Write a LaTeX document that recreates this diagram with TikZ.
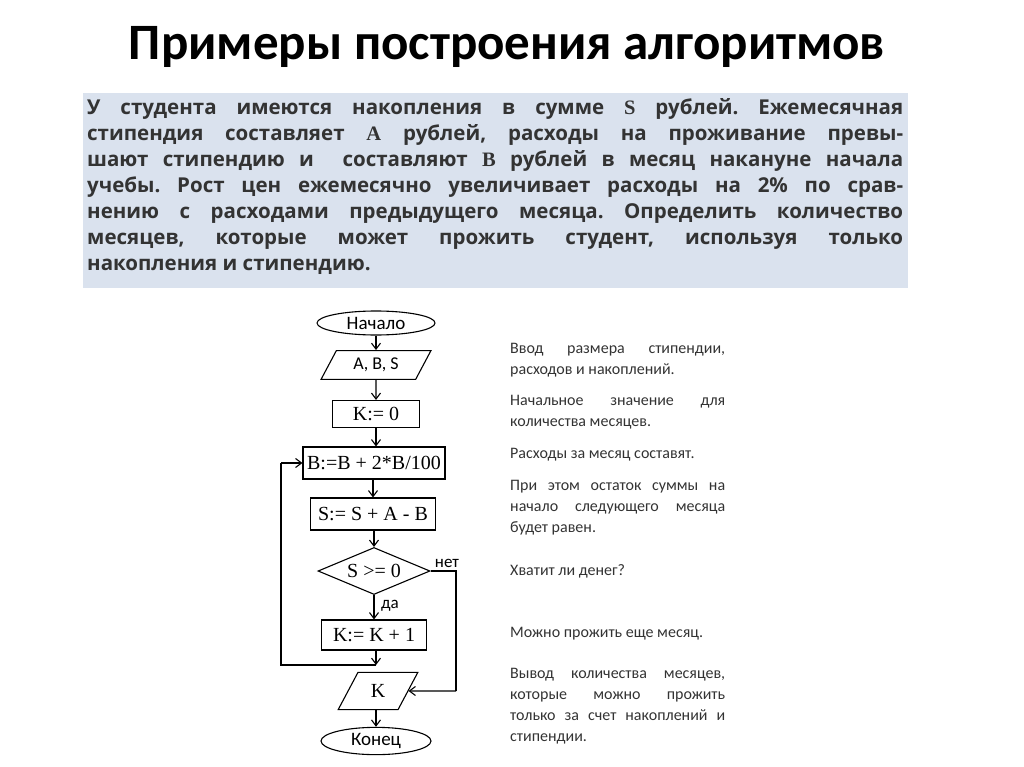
\documentclass[tikz,border=0pt]{standalone}
\usepackage{fontspec}
\setmainfont{Carlito}
\newfontfamily\tms{Liberation Serif}
\newfontfamily\opn{Open Sans}
\usetikzlibrary{shapes.geometric,arrows.meta}
\definecolor{boxbg}{HTML}{DAE2EE}
\definecolor{txt}{HTML}{333333}
\frenchspacing
\tikzset{
  fl/.style={draw,line width=1.1pt,minimum height=27pt,inner sep=2pt,font=\tms\fontsize{20}{20}\selectfont},
  term/.style={fl,ellipse,minimum height=24pt,font=\fontsize{19}{19}\selectfont},
  io/.style={fl,trapezium,trapezium left angle=62,trapezium right angle=118,minimum height=28pt},
  dec/.style={fl,diamond,aspect=2.4,inner sep=0pt},
  arr/.style={line width=1.1pt,-{Straight Barb[length=6pt,width=9pt]}},
  note/.style={anchor=north west,text width=215pt,align=justify,inner sep=0pt,text=txt,font=\fontsize{16}{21}\selectfont},
}
\begin{document}
\begin{tikzpicture}[x=1pt,y=-1pt]
\useasboundingbox (0,0) rectangle (1024,767);
\node[font=\bfseries\fontsize{51}{51}\selectfont] (title) at (507,47) {Примеры построения алгоритмов};
\fill[boxbg] (83,93) rectangle (908,288);
\node[anchor=north west,text width=816pt,align=justify,inner sep=0pt,text=txt,font=\opn\bfseries\fontsize{20.5}{26}\selectfont] (prob) at (87,98)
{У студента имеются накопления в сумме {\tms S} рублей. Ежемесячная\linebreak
стипендия составляет {\tms A} рублей, расходы на проживание превы-\linebreak
шают стипендию и\ \ составляют {\tms B} рублей в месяц накануне начала\linebreak
учебы. Рост цен ежемесячно увеличивает расходы на 2\% по срав-\linebreak
нению с расходами предыдущего месяца. Определить количество\linebreak
месяцев, которые может прожить студент, используя только\linebreak
накопления и стипендию.};

\node[term,minimum width=118pt] (start) at (376,323) {Начало};
\node[io,minimum width=110pt,font=\fontsize{18}{18}\selectfont] (in) at (376,365) {A, B, S};
\node[fl,rectangle,minimum width=87pt] (k0) at (376,414) {K:= 0};
\node[fl,rectangle,minimum width=142pt,minimum height=32pt] (bb) at (374,463) {B:=B + 2*B/100};
\node[fl,rectangle,minimum width=125pt,minimum height=32pt] (ss) at (373,514) {S:= S + A - B};
\node[dec,minimum width=112pt,minimum height=47pt] (d) at (374,571) {S >= 0};
\node[fl,rectangle,minimum width=105pt,minimum height=30pt] (kk) at (374,635) {K:= K + 1};
\node[io,minimum width=80pt] (out) at (378,691) {K};
\node[term,minimum width=110pt,minimum height=26pt] (end) at (376,741) {Конец};
\coordinate (j) at (376,665);
\coordinate (l1) at (281,665);
\coordinate (l2) at (281,463);
\coordinate (r1) at (456,571);
\coordinate (r2) at (456,691);

\draw[arr] (start) -- (in);
\draw[arr] (in) -- (k0);
\draw[arr] (k0) -- (k0|-bb.north);
\draw[arr] (bb.south-|ss) -- (ss);
\draw[arr] (ss.south-|d) -- (d);
\draw[arr] (d) -- (kk);
\draw[arr] (kk.south-|j) -- (j);
\draw[line width=1.1pt] (j) -- (l1) -- (l2);
\draw[arr] (l2) -- (bb.west);
\draw[line width=1.1pt] (d.east) -- (r1) -- (r2);
\draw[arr] (r2) -- (out.east);
\draw[arr] (out.south-|end) -- (end);
\node[font=\fontsize{17}{17}\selectfont] (no) at (447,563) {нет};
\node[font=\fontsize{17}{17}\selectfont] (yes) at (390,606) {да};

\node[note] (n1) at (510,343) {Ввод размера стипендии,\linebreak расходов и накоплений.};
\node[note] (n2) at (510,395) {Начальное значение для\linebreak количества месяцев.};
\node[note] (n3) at (510,448) {Расходы за месяц составят.};
\node[note] (n4) at (510,480) {При этом остаток суммы на\linebreak начало следующего месяца\linebreak будет равен.};
\node[note] (n5) at (510,564) {Хватит ли денег?};
\node[note] (n6) at (510,627) {Можно прожить еще месяц.};
\node[note] (n7) at (510,668) {Вывод количества месяцев,\linebreak которые можно прожить\linebreak только за счет накоплений и\linebreak стипендии.};
\end{tikzpicture}
\end{document}
